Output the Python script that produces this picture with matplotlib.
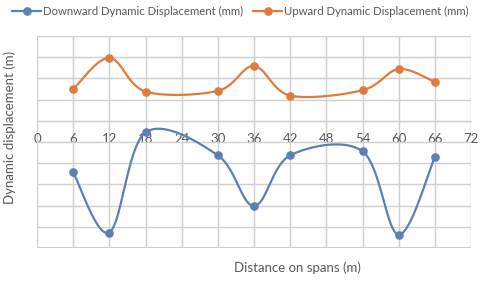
import numpy as np
import matplotlib.pyplot as plt
from matplotlib.lines import Line2D

# data (grid step = 1 unit, no y tick labels shown)
spans = [6, 12, 18, 30, 36, 42, 54, 60, 66]
downward = [-2.43, -5.27, -0.55, -1.63, -4.02, -1.63, -1.44, -5.37, -1.70]
upward = [1.49, 2.97, 1.38, 1.41, 2.58, 1.19, 1.44, 2.44, 1.83]

x_ticks = list(range(0, 73, 6))
series_names = ['Downward Dynamic Displacement (mm)', 'Upward Dynamic Displacement (mm)']

BLUE = '#5b80b8'
ORANGE = '#e07b3c'
GRID = '#d0d0d0'
TEXT = '#595959'
W, H = 480, 282


def excel_smooth(xs, ys, n=40):
    # excel style smoothed line: bezier segments with catmull-rom tangents / 6
    xs = np.asarray(xs, float)
    ys = np.asarray(ys, float)
    px = np.concatenate([[xs[0]], xs, [xs[-1]]])
    py = np.concatenate([[ys[0]], ys, [ys[-1]]])
    t = np.linspace(0, 1, n)
    outx, outy = [], []
    for i in range(1, len(px) - 2):
        p0 = np.array([px[i], py[i]])
        p3 = np.array([px[i + 1], py[i + 1]])
        c1 = p0 + (np.array([px[i + 1], py[i + 1]]) - np.array([px[i - 1], py[i - 1]])) / 6
        c2 = p3 - (np.array([px[i + 2], py[i + 2]]) - np.array([px[i], py[i]])) / 6
        b = ((1 - t) ** 3)[:, None] * p0 + (3 * (1 - t) ** 2 * t)[:, None] * c1 \
            + (3 * (1 - t) * t ** 2)[:, None] * c2 + (t ** 3)[:, None] * p3
        outx.extend(b[:, 0])
        outy.extend(b[:, 1])
    return outx, outy


plt.rcParams['font.family'] = ['Lato', 'DejaVu Sans']

fig = plt.figure(figsize=(W / 100, H / 100), dpi=100)
ax = fig.add_axes([37 / W, 1 - 248 / H, 434 / W, 212 / H])

for ys, col in [(downward, BLUE), (upward, ORANGE)]:
    sx, sy = excel_smooth(spans, ys)
    ax.plot(sx, sy, color=col, lw=1.6, solid_capstyle='round', zorder=3)
    ax.plot(spans, ys, 'o', color=col, ms=5.2, zorder=4)

ax.set_xlim(0, 72)
ax.set_ylim(-6, 4)
ax.set_xticks(x_ticks)
ax.set_yticks(range(-6, 5))
ax.set_yticklabels([])
ax.grid(True, color=GRID, lw=1, zorder=0)
for s in ['top', 'right', 'left']:
    ax.spines[s].set_visible(False)
ax.spines['bottom'].set_position(('data', 0))
ax.spines['bottom'].set_color(GRID)
ax.tick_params(axis='x', length=0, pad=9, labelsize=9.5, colors=TEXT)
ax.tick_params(axis='y', length=0)

# bottom border line of the plot area
ax.axhline(-6, color=GRID, lw=1.5, zorder=0)

fig.text(10 / W, 1 - 127 / H, 'Dynamic displacement (m)', rotation=90,
         ha='center', va='center', fontsize=9.5, color=TEXT)
fig.text(297 / W, 1 - 268 / H, 'Distance on spans (m)',
         ha='center', va='center', fontsize=9.5, color=TEXT)

# legend drawn by hand: line + marker, then the label
ly = 1 - 11 / H
for name, col, x0 in zip(series_names, [BLUE, ORANGE], [12, 253]):
    fig.add_artist(Line2D([x0 / W, (x0 + 29) / W], [ly, ly], color=col, lw=1.6))
    fig.add_artist(Line2D([(x0 + 15) / W], [ly], marker='o', ms=5.2, color=col))
    fig.text((x0 + 31) / W, ly, name, ha='left', va='center', fontsize=8.2, color=TEXT)

fig.savefig('out.png', dpi=100)
